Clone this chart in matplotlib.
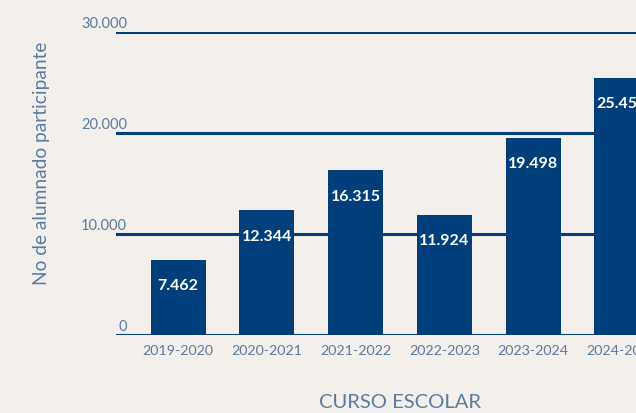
import matplotlib
matplotlib.use('Agg')
import matplotlib.pyplot as plt
from matplotlib import transforms

# datos
cursos = ['2019-2020', '2020-2021', '2021-2022', '2022-2023', '2023-2024', '2024-2025']
alumnado = [7462, 12344, 16315, 11924, 19498, 25450]
etiquetas = ['7.462', '12.344', '16.315', '11.924', '19.498', '25.450']
yticks = [0, 10000, 20000, 30000]
ytick_labels = ['0', '10.000', '20.000', '30.000']

fondo = '#F3EFEA'
azul = '#003F7B'
gris_azul = '#5B7BA3'

plt.rcParams['font.family'] = ['Lato', 'DejaVu Sans']

fig = plt.figure(figsize=(6.36, 4.13), dpi=100)
fig.patch.set_facecolor(fondo)
W, H = 636, 413
ax = fig.add_axes([116 / W, (H - 335) / H, 1 - 116 / W, (335 - 32) / H])
ax.set_facecolor(fondo)

x = list(range(len(cursos)))
ax.set_xlim(-0.70, 5.16)
ax.set_ylim(0, 30000)

# líneas horizontales
for v in yticks:
    ax.axhline(v, color=azul, linewidth=2.2, zorder=1)

ax.bar(x, alumnado, width=0.62, color=azul, zorder=2)

for xi, v, lab in zip(x, alumnado, etiquetas):
    ax.annotate(lab, (xi, v), xytext=(0, -19), textcoords='offset points',
                ha='center', va='center', color='white', fontsize=11.5,
                fontweight='bold', zorder=3)

# etiquetas del eje y encima de cada línea
trans = transforms.blended_transform_factory(ax.transAxes, ax.transData)
for v, lab in zip(yticks, ytick_labels):
    ax.annotate(lab, (0, v), xycoords=trans, xytext=(8, 1), textcoords='offset points',
                ha='right', va='bottom', color=gris_azul, fontsize=10.5)

ax.set_xticks(x)
ax.set_xticklabels(cursos, color=gris_azul, fontsize=10.3)
ax.tick_params(axis='x', length=0, pad=7)
ax.set_yticks([])
for s in ax.spines.values():
    s.set_visible(False)

fig.text(42 / W, 1 - 163 / H, 'No de alumnado participante', rotation=90,
         ha='center', va='center', color=gris_azul, fontsize=13.8)
fig.text(400 / W, 1 - 403 / H, 'CURSO ESCOLAR', ha='center', va='center',
         color=gris_azul, fontsize=14.5)

fig.savefig('out.png', dpi=100, facecolor=fondo)
